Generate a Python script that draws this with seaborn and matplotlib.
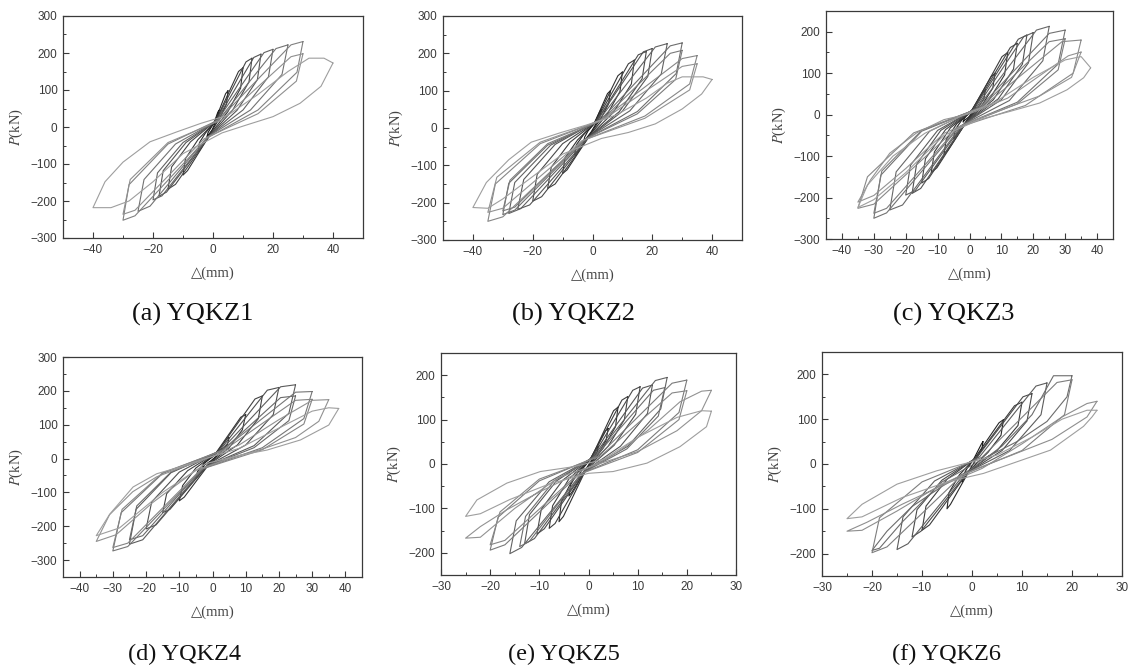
import numpy as np
import matplotlib
matplotlib.use("Agg")
import matplotlib.pyplot as plt
from matplotlib.ticker import MultipleLocator
import seaborn as sns

# Hysteresis loops: one list of vertices per cycle,
# going tip(+) -> unloading -> tip(-) -> unloading -> back.
# Displacement in mm, load in kN.

A_X = [
    [2, 1.7, 1, -0.3, -1.6, -2, -1.7, -1, 0.3, 1.6],
    [5, 4.5, 2.5, -0.5, -4.2, -5, -4.5, -2.5, 0.5, 4.2],
    [10, 9.2, 5, -0.8, -8.5, -10, -9.2, -5, 0.8, 8.5],
    [13, 12, 6.5, -1, -12.5, -15, -13.8, -7.5, 1, 11],
    [16, 14.8, 8, -1.2, -15.5, -18, -16.6, -9, 1.2, 13.6],
    [20, 18.5, 10, -1.5, -17, -20, -18.5, -10, 1.5, 17],
    [25, 23, 12.5, -2, -21, -25, -23, -12.5, 2, 21],
    [30, 28, 15, -2, -26, -30, -28, -15, 2, 26],
    [30, 27.8, 15, -3, -26, -30, -27.6, -15, 3, 26],
    [40, 36, 29, 20, 11, 3, -10, -20, -28, -34, -40, -36, -30, -21, -12, -4, 5, 15, 25, 32, 37],
]
A_P = [
    [45, 30, 15, -8, -22, -26, -16, -6, 10, 40],
    [98, 62, 28, -12, -60, -68, -42, -16, 12, 90],
    [160, 105, 42, -18, -118, -130, -86, -34, 15, 150],
    [186, 122, 45, -22, -155, -168, -108, -40, 17, 176],
    [197, 128, 45, -24, -176, -187, -118, -42, 18, 188],
    [210, 136, 46, -26, -186, -197, -124, -42, 19, 201],
    [222, 142, 46, -28, -214, -228, -142, -46, 20, 212],
    [231, 148, 46, -30, -240, -252, -156, -46, 20, 222],
    [198, 124, 36, -32, -225, -236, -142, -42, 20, 190],
    [173, 110, 64, 28, 5, -16, -72, -148, -200, -218, -218, -148, -95, -40, -13, 10, 32, 88, 150, 186, 186],
]

B_X = [
    [3, 2.6, 1.5, -0.4, -2.5, -3, -2.6, -1.5, 0.4, 2.5],
    [6, 5.4, 3, -0.6, -5, -6, -5.4, -3, 0.6, 5],
    [10, 9.2, 5, -0.8, -8.5, -10, -9.2, -5, 0.8, 8.5],
    [14, 13, 7, -1, -12.5, -15, -13.8, -7.5, 1, 12],
    [18, 16.6, 9, -1.4, -17, -20, -18.5, -10, 1.4, 15.3],
    [20, 18.5, 10, -1.5, -21, -25, -23, -12.5, 1.5, 17],
    [25, 23, 12.5, -2, -24, -28, -26, -14, 2, 21],
    [30, 28, 15, -2.5, -26, -30, -28, -15, 2.5, 26],
    [30, 27.8, 15, -3, -26, -30, -27.6, -15, 3, 26],
    [35, 32.5, 17.5, -3, -30, -35, -32.5, -17.5, 3, 30],
    [35, 32.5, 17.5, -3.5, -30, -35, -32, -17.5, 3.5, 30],
    [40, 36.5, 30, 21, 12, 3, -10, -20, -30, -35, -40, -35.5, -28, -20.5, -10.5, -2, 8, 18, 25, 30, 37],
]
B_P = [
    [50, 34, 16, -10, -32, -38, -24, -8, 10, 45],
    [100, 65, 28, -14, -64, -72, -45, -18, 12, 92],
    [150, 98, 38, -18, -112, -122, -80, -32, 14, 140],
    [182, 118, 42, -22, -150, -162, -105, -38, 16, 172],
    [205, 132, 44, -25, -184, -196, -124, -42, 18, 196],
    [213, 138, 45, -27, -206, -218, -138, -44, 19, 204],
    [226, 145, 46, -28, -216, -229, -146, -46, 20, 217],
    [228, 146, 44, -30, -220, -232, -148, -46, 20, 220],
    [208, 130, 38, -32, -212, -222, -140, -42, 20, 200],
    [194, 118, 32, -33, -238, -250, -150, -42, 21, 186],
    [172, 102, 26, -34, -215, -226, -132, -38, 22, 165],
    [130, 91, 51, 11, -12, -28, -70, -130, -190, -215, -213, -146, -85, -38, -12, 8, 35, 80, 120, 137, 137],
]

C_X = [
    [2, 1.7, 1, -0.3, -1.6, -2, -1.7, -1, 0.3, 1.6],
    [5, 4.5, 2.5, -0.5, -4.2, -5, -4.5, -2.5, 0.5, 4.2],
    [8, 7.3, 4, -0.7, -6.8, -8, -7.3, -4, 0.7, 6.8],
    [12, 11, 6, -1, -10.2, -12, -11, -6, 1, 10.2],
    [15, 13.8, 7.5, -1.2, -12.8, -15, -13.8, -7.5, 1.2, 12.8],
    [18, 16.6, 9, -1.5, -15.3, -18, -16.6, -9, 1.5, 15.3],
    [20, 18.5, 10, -2, -17, -20, -18.5, -10, 2, 17],
    [25, 23, 12.5, -2.5, -21, -25, -23, -12.5, 2.5, 21],
    [30, 27.8, 15, -3, -26, -30, -27.8, -15, 3, 25],
    [30, 27.8, 15, -3.5, -26, -30, -27.5, -15, 3.5, 25],
    [35, 32.5, 17.5, -4, -30, -35, -32, -17.5, 4, 29],
    [35, 32, 22, 13, 2, -8, -20, -30, -35, -31, -25, -16.6, -8, 0, 12, 25, 31],
    [38, 35.8, 30.6, 22, 12.8, 3, -8, -20, -30, -35, -32, -24, -14, -4, 8, 20, 30, 35],
]
C_P = [
    [22, 14, 6, -6, -14, -18, -10, -3, 5, 19],
    [60, 38, 15, -10, -50, -58, -36, -14, 8, 54],
    [100, 64, 24, -14, -86, -95, -60, -22, 10, 92],
    [150, 96, 34, -18, -128, -140, -90, -32, 12, 140],
    [172, 110, 36, -20, -154, -165, -106, -36, 13, 162],
    [192, 122, 38, -22, -178, -190, -120, -38, 14, 182],
    [198, 125, 36, -24, -183, -194, -122, -38, 15, 188],
    [213, 130, 34, -26, -218, -230, -138, -40, 16, 204],
    [204, 122, 30, -28, -237, -250, -146, -40, 16, 196],
    [183, 108, 26, -30, -226, -238, -136, -38, 17, 176],
    [180, 100, 22, -32, -216, -226, -150, -44, 18, 176],
    [151, 90, 45, 20, -12, -45, -130, -195, -211, -157, -93, -44, -12, 2, 40, 110, 142],
    [113, 89, 60, 28, 8, -12, -50, -140, -205, -224, -170, -100, -45, -8, 30, 90, 132, 140],
]

D_X = [
    [3, 2.6, 1.5, -0.4, -2.5, -3, -2.6, -1.5, 0.4, 2.5],
    [5, 4.5, 2.5, -0.6, -4.2, -5, -4.5, -2.5, 0.6, 4.2],
    [10, 9, 5, -1, -8.5, -10, -9, -5, 1, 8.5],
    [15, 13.8, 7.5, -1.5, -12.8, -15, -13.8, -7.5, 1.5, 12.8],
    [20, 18.3, 10, -2, -17, -20, -18.3, -10, 2, 16.5],
    [25, 23, 12.5, -2.5, -21, -25, -23, -12.5, 2.5, 20.5],
    [25, 23, 12.5, -3, -21, -25, -22.8, -12.5, 3, 20.5],
    [30, 27.5, 15, -3, -25.5, -30, -27.5, -15, 3, 25],
    [30, 27.5, 15, -3.5, -25.5, -30, -27.2, -15, 3.5, 25],
    [35, 32, 25, 15, 5, -5, -18, -29, -35, -31, -24, -16.8, -9.8, -3.7, 8, 20, 30],
    [38, 35, 26.5, 16.4, 8.4, -2, -15, -28, -35, -30.9, -23.9, -16.8, -9.8, -3.7, 8, 20, 30, 35],
]
D_P = [
    [30, 20, 10, -6, -20, -25, -15, -5, 8, 27],
    [62, 42, 18, -10, -50, -58, -38, -14, 10, 56],
    [130, 85, 32, -16, -114, -125, -80, -28, 16, 122],
    [185, 118, 40, -20, -150, -160, -104, -36, 20, 176],
    [210, 130, 40, -24, -196, -208, -128, -40, 22, 202],
    [218, 134, 38, -26, -240, -253, -150, -42, 24, 212],
    [185, 112, 32, -28, -228, -240, -140, -40, 24, 180],
    [198, 118, 32, -30, -260, -273, -160, -44, 25, 196],
    [175, 102, 26, -32, -250, -263, -150, -42, 25, 172],
    [174, 110, 62, 28, 0, -35, -130, -225, -245, -166, -98, -54, -28, -8, 40, 115, 172],
    [148, 99, 55, 25, 10, -15, -100, -205, -228, -164, -84, -45, -25, -5, 30, 90, 140, 150],
]

E_X = [
    [2, 1.8, 1, -0.2, -1.7, -2, -1.8, -1, 0.2, 1.7],
    [4, 3.6, 2, -0.3, -3.4, -4, -3.6, -2, 0.3, 3.4],
    [6, 5.5, 3, -0.5, -5.1, -6, -5.5, -3, 0.5, 5.1],
    [8, 7.3, 4, -0.6, -6.8, -8, -7.3, -4, 0.6, 6.8],
    [10.5, 9.6, 5.2, -0.8, -9, -10.5, -9.6, -5.2, 0.8, 9],
    [13, 12, 6.5, -1, -11, -13, -12, -6.5, 1, 11],
    [16, 14.7, 8, -1.3, -13.6, -16, -14.7, -8, 1.3, 13.6],
    [15.5, 14.2, 7.8, -1.5, -12, -14, -12.8, -7, 1.5, 13.2],
    [20, 18.4, 10, -2, -17, -20, -18.4, -10, 2, 17],
    [20, 18.4, 10, -2.5, -17, -20, -18, -10, 2.5, 17],
    [25, 23, 18, 10, 2, -6, -15, -22, -25, -22, -16.6, -10.5, -3, 5, 12, 18.6, 23],
    [25, 24, 18.6, 11.9, 5, 0, -8, -16, -22, -25, -22.7, -16.6, -9.8, -3, 3, 10, 18, 23],
]
E_P = [
    [40, 28, 14, -6, -30, -35, -22, -8, 8, 36],
    [80, 54, 24, -8, -64, -72, -46, -16, 10, 74],
    [128, 84, 36, -12, -118, -130, -84, -30, 12, 120],
    [152, 100, 40, -14, -134, -145, -94, -34, 14, 144],
    [174, 112, 42, -16, -146, -158, -102, -36, 15, 166],
    [178, 114, 40, -18, -168, -180, -114, -38, 16, 171],
    [195, 124, 40, -20, -188, -202, -128, -40, 17, 188],
    [172, 108, 34, -22, -174, -186, -118, -38, 18, 166],
    [189, 116, 32, -24, -182, -194, -120, -38, 18, 182],
    [165, 100, 26, -26, -172, -182, -108, -34, 18, 160],
    [166, 120, 75, 28, 0, -30, -100, -165, -167, -141, -103, -66, -25, 20, 75, 140, 164],
    [119, 84, 39, 2, -17, -21, -45, -80, -112, -118, -81, -43, -17, -6, 10, 60, 105, 120],
]

F_X = [
    [2.2, 2, 1.1, -0.2, -1.7, -2, -1.8, -1, 0.2, 1.9],
    [6.3, 5.8, 3.2, -0.5, -4.3, -5, -4.6, -2.5, 0.5, 5.4],
    [10, 9.2, 5, -0.8, -8.5, -10, -9.2, -5, 0.8, 8.5],
    [12, 11, 6, -1, -10.2, -12, -11, -6, 1, 10.2],
    [15, 13.8, 7.5, -1.5, -12.8, -15, -13.8, -7.5, 1.5, 12.8],
    [20, 19, 15, 9, 2, -6, -14, -18.5, -20, -17, -12, -6, 0, 6, 12, 16.3],
    [20, 18.5, 10, -2, -17, -20, -18.5, -10, 2, 17],
    [25, 23, 16, 8, 1, -6, -15, -22, -25, -21, -14, -6, 2, 10, 18, 23],
    [25, 24, 22.3, 15.7, 9, 2.3, -5, -14, -22, -25, -22, -15, -7, 0, 5, 12, 18, 23],
]
F_P = [
    [50, 34, 16, -8, -34, -40, -26, -10, 8, 45],
    [99, 64, 26, -14, -90, -100, -64, -24, 12, 92],
    [138, 86, 30, -18, -136, -148, -94, -34, 14, 130],
    [157, 96, 30, -20, -150, -163, -102, -36, 15, 150],
    [181, 110, 30, -22, -178, -191, -118, -38, 16, 174],
    [197, 150, 95, 50, 10, -40, -130, -188, -193, -150, -95, -50, -10, 40, 110, 197],
    [188, 110, 30, -25, -185, -198, -120, -40, 15, 182],
    [140, 105, 55, 20, -10, -45, -105, -148, -150, -130, -90, -48, -10, 45, 105, 135],
    [120, 105, 84, 31, 5, -21, -40, -75, -118, -122, -90, -45, -15, 5, 20, 60, 100, 120],
]

CAPTIONS = ["(a) YQKZ1", "(b) YQKZ2", "(c) YQKZ3", "(d) YQKZ4", "(e) YQKZ5", "(f) YQKZ6"]

W, H = 1133, 669

# axes boxes in pixels (left, top, right, bottom), caption centre and size
panels = [
    (A_X, A_P, (63, 16, 363, 238), (-50, 50), (-300, 300), 20, 100, (193, 314, 19)),
    (B_X, B_P, (443, 16, 742, 240), (-50, 50), (-300, 300), 20, 100, (574, 314, 19)),
    (C_X, C_P, (826, 11, 1113, 239), (-45, 45), (-300, 250), 10, 100, (954, 314, 19)),
    (D_X, D_P, (63, 357, 362, 577), (-45, 45), (-350, 300), 10, 100, (185, 654, 17.5)),
    (E_X, E_P, (441, 353, 736, 575), (-30, 30), (-250, 250), 10, 100, (564, 654, 17.5)),
    (F_X, F_P, (822, 352, 1122, 576), (-30, 30), (-250, 250), 10, 100, (946, 654, 17.5)),
]

sns.set_style("ticks")
plt.rcParams['font.family'] = ['Liberation Sans', 'DejaVu Sans']
plt.rcParams['mathtext.fontset'] = 'stix'

fig = plt.figure(figsize=(W / 100, H / 100), dpi=100)

for (lx, lp, box, xlim, ylim, xstep, ystep, cap), caption in zip(panels, CAPTIONS):
    l, t, r, b = box
    ax = fig.add_axes([l / W, 1 - b / H, (r - l) / W, (b - t) / H])

    shades = np.linspace(0.1, 0.62, len(lx))
    for xs, ps, g in zip(lx, lp, shades):
        sns.lineplot(x=xs + xs[:1], y=ps + ps[:1], sort=False, estimator=None,
                     color=str(round(g, 3)), lw=0.8, ax=ax)

    ax.set_xlim(*xlim)
    ax.set_ylim(*ylim)
    ax.xaxis.set_major_locator(MultipleLocator(xstep))
    ax.xaxis.set_minor_locator(MultipleLocator(xstep / 2))
    ax.yaxis.set_major_locator(MultipleLocator(ystep))
    ax.yaxis.set_minor_locator(MultipleLocator(ystep / 2))
    ax.tick_params(which='major', direction='in', length=4, width=0.8,
                   labelsize=8.5, colors='#3a3a3a', pad=4)
    ax.tick_params(which='minor', direction='in', length=2.2, width=0.7, colors='#3a3a3a')
    for s in ax.spines.values():
        s.set_color('#3a3a3a')
        s.set_linewidth(0.9)

    ax.set_xlabel('△(mm)', family=['Liberation Serif', 'DejaVu Sans'],
                  fontsize=10.5, color='#444444', labelpad=8)
    ax.set_ylabel(r'$P$(kN)', family='Liberation Serif', fontsize=10.5,
                  color='#444444', labelpad=4)

    fig.text(cap[0] / W, 1 - cap[1] / H, caption, family='Liberation Serif',
             fontsize=cap[2], ha='center', va='center', color='#111111')

fig.savefig('out.png', dpi=100)
